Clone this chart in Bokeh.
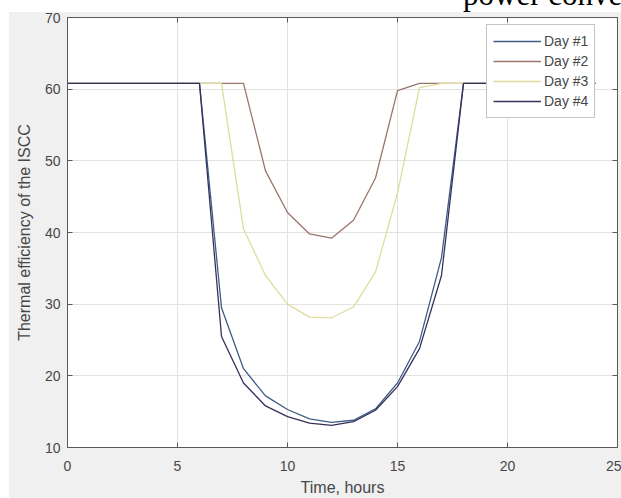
from bokeh.plotting import figure
from bokeh.models import FixedTicker, LinearAxis, Legend, LegendItem, Div
from bokeh.layouts import column
from bokeh.embed import file_html
from bokeh.resources import INLINE

# Hourly thermal efficiency of the ISCC for four sample days
hours = [0, 1, 2, 3, 4, 5, 6, 7, 8, 9, 10, 11, 12,
         13, 14, 15, 16, 17, 18, 19, 20, 21, 22, 23, 24]
day1 = [60.8, 60.8, 60.8, 60.8, 60.8, 60.8, 60.8, 29.5, 21.0, 17.2, 15.3, 14.0, 13.5,
        13.8, 15.4, 19.0, 24.8, 36.5, 60.8, 60.8, 60.8, 60.8, 60.8, 60.8, 60.8]
day2 = [60.8, 60.8, 60.8, 60.8, 60.8, 60.8, 60.8, 60.8, 60.8, 48.6, 42.8, 39.8, 39.2,
        41.7, 47.6, 59.8, 60.8, 60.8, 60.8, 60.8, 60.8, 60.8, 60.8, 60.8, 60.8]
day3 = [60.8, 60.8, 60.8, 60.8, 60.8, 60.8, 60.8, 60.8, 40.5, 34.0, 30.0, 28.2, 28.1,
        29.6, 34.5, 45.5, 60.2, 60.8, 60.8, 60.8, 60.8, 60.8, 60.8, 60.8, 60.8]
day4 = [60.8, 60.8, 60.8, 60.8, 60.8, 60.8, 60.8, 25.5, 19.0, 15.8, 14.3, 13.4, 13.1,
        13.6, 15.2, 18.5, 23.8, 34.0, 60.8, 60.8, 60.8, 60.8, 60.8, 60.8, 60.8]

series_names = ["Day #1", "Day #2", "Day #3", "Day #4"]
series_values = [day1, day2, day3, day4]
series_colors = ["#3f5c86", "#9a756c", "#e0dc9c", "#35305c"]

x_ticks = [0, 5, 10, 15, 20, 25]
y_ticks = [10, 20, 30, 40, 50, 60, 70]

FONT = "Liberation Sans"
INK = "#474747"
EDGE = "#5a5a5a"

p = figure(width=621, height=498, x_range=(0, 25), y_range=(10, 70),
           output_backend="svg", toolbar_location=None,
           min_border_left=67, min_border_right=4,
           min_border_top=17, min_border_bottom=51)
p.background_fill_color = "white"
p.border_fill_color = "#f0f0f0"
p.outline_line_color = EDGE
p.outline_line_width = 1

items = []
for name, vals, col in zip(series_names, series_values, series_colors):
    r = p.line(hours, vals, line_color=col, line_width=1.3)
    items.append(LegendItem(label=name, renderers=[r]))

for ax in (p.xaxis[0], p.yaxis[0]):
    ax.major_tick_in = 5
    ax.major_tick_out = 0
    ax.minor_tick_line_color = None
    ax.axis_line_color = EDGE
    ax.major_tick_line_color = EDGE
    ax.major_label_text_font = FONT
    ax.major_label_text_font_size = "14px"
    ax.major_label_text_color = INK
    ax.axis_label_text_font = FONT
    ax.axis_label_text_font_size = "16px"
    ax.axis_label_text_font_style = "normal"
    ax.axis_label_text_color = INK

p.xaxis.ticker = FixedTicker(ticks=x_ticks)
p.yaxis.ticker = FixedTicker(ticks=y_ticks)
p.xaxis.axis_label = "Time, hours"
p.yaxis.axis_label = "Thermal efficiency of the ISCC"
p.xaxis.major_label_standoff = 13
p.yaxis.major_label_standoff = 7
p.xaxis.axis_label_standoff = 5
p.yaxis.axis_label_standoff = 9

# Box-style tick marks on the top and right edges
for side, tk in (("above", x_ticks), ("right", y_ticks)):
    ax = LinearAxis(ticker=FixedTicker(ticks=tk))
    ax.major_tick_in = 5
    ax.major_tick_out = 0
    ax.minor_tick_line_color = None
    ax.axis_line_color = EDGE
    ax.major_tick_line_color = EDGE
    ax.major_label_text_font_size = "0px"
    ax.major_label_standoff = 0
    p.add_layout(ax, side)

p.xgrid.grid_line_color = "#e2e2e2"
p.ygrid.grid_line_color = "#e2e2e2"

legend = Legend(items=items, location=(419, 329))
legend.background_fill_color = "white"
legend.background_fill_alpha = 1
legend.border_line_color = "#8a8a8a"
legend.label_text_font = FONT
legend.label_text_font_size = "14px"
legend.label_text_color = INK
legend.glyph_width = 48
legend.glyph_height = 20
legend.label_height = 20
legend.label_standoff = 3
legend.spacing = 0
legend.padding = 6
legend.margin = 0
p.add_layout(legend)

# White page margins and the running caption laid over the grey panel
overlay_html = (
    '<div style="position:absolute;left:0;top:-498px;width:621px;height:12px;'
    'background:white;overflow:hidden;">'
    '<div style="position:absolute;left:463px;top:-23px;white-space:nowrap;'
    'font-family:\'Liberation Serif\';font-size:31px;line-height:normal;color:#000;">'
    'power conve</div></div>'
    '<div style="position:absolute;left:0;top:-486px;width:9px;height:486px;'
    'background:white;"></div>'
)
overlay = Div(text=overlay_html, width=621, height=0, margin=0,
              styles={"position": "relative", "overflow": "visible", "z-index": "5"})

layout = column(p, overlay)

open("out.html", "w").write(file_html(layout, INLINE))
